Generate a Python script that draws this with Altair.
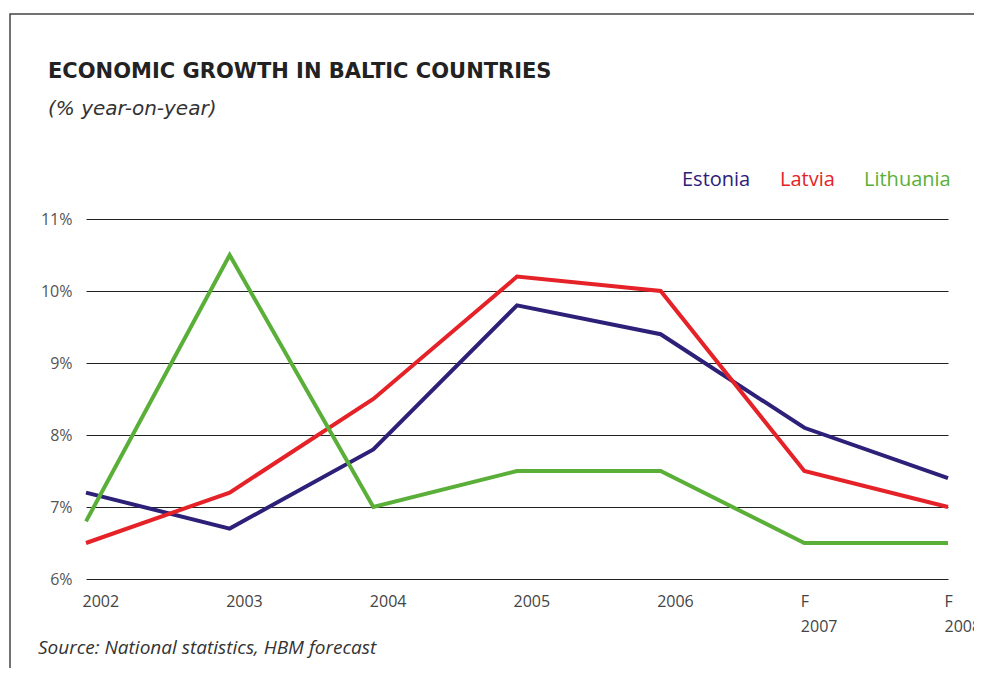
import altair as alt
import pandas as pd

years = [2002, 2003, 2004, 2005, 2006, 2007, 2008]
estonia = [7.2, 6.7, 7.8, 9.8, 9.4, 8.1, 7.4]
latvia = [6.5, 7.2, 8.5, 10.2, 10.0, 7.5, 7.0]
lithuania = [6.8, 10.5, 7.0, 7.5, 7.5, 6.5, 6.5]
countries = ["Estonia", "Latvia", "Lithuania"]
colors = ["#2d2079", "#e52228", "#5aaf38"]
y_ticks = [6, 7, 8, 9, 10, 11]
forecast_years = [2007, 2008]
title_text = "ECONOMIC GROWTH IN BALTIC COUNTRIES"
subtitle_text = "(% year-on-year)"
source_text = "Source: National statistics, HBM forecast"

rows = []
for c, vals in zip(countries, [estonia, latvia, lithuania]):
    for yr, v in zip(years, vals):
        rows.append({"country": c, "year": yr, "growth": v})
df = pd.DataFrame(rows)

W, H = 862, 360
FONT = "Open Sans"
HEAD_FONT = "DejaVu Sans"

color_expr = ""
for c, col in zip(countries[:-1], colors[:-1]):
    color_expr += f"datum.value == '{c}' ? '{col}' : "
color_expr += f"'{colors[-1]}'"

lines = alt.Chart(df).mark_line(strokeWidth=4, strokeJoin="miter").encode(
    x=alt.X("year:Q",
            scale=alt.Scale(domain=[years[0], years[-1]], nice=False, zero=False),
            axis=alt.Axis(values=years, format="d",
                          labelExpr=f"indexof({forecast_years}, datum.value) >= 0 ? ['F', datum.label] : datum.label",
                          grid=False, domain=False, ticks=False,
                          labelAlign="left", labelBaseline="top", labelPadding=14,
                          labelOffset=-4, labelFontSize=16, labelColor="#444",
                          labelFont=FONT, labelLineHeight=25, labelFlush=False,
                          labelOverlap=False, labelBound=False, title=None)),
    y=alt.Y("growth:Q",
            scale=alt.Scale(domain=[y_ticks[0], y_ticks[-1]], nice=False, zero=False),
            axis=alt.Axis(values=y_ticks, format="d", labelExpr="datum.label + '%'",
                          grid=True, gridColor="#222", gridWidth=1.2,
                          domain=False, ticks=False, labelPadding=14,
                          labelFontSize=16, labelColor="#555", labelFont=FONT,
                          title=None)),
    color=alt.Color("country:N",
                    scale=alt.Scale(domain=countries, range=colors),
                    legend=alt.Legend(orient="none", legendX=576, legendY=-49,
                                      direction="horizontal", title=None,
                                      symbolSize=0, symbolStrokeWidth=0, symbolOpacity=0,
                                      labelFontSize=20, labelFont=FONT, labelOffset=0,
                                      columnPadding=9,
                                      labelColor=alt.ExprRef(color_expr))),
)

one = pd.DataFrame({"t": [title_text], "s": [subtitle_text], "src": [source_text]})

frame = alt.Chart(one).mark_rect(fill=None, stroke="#444", strokeWidth=1.5).encode(
    x=alt.value(-76), x2=alt.value(1000), y=alt.value(-205), y2=alt.value(700)
)

title = alt.Chart(one).mark_text(align="left", baseline="alphabetic", font=HEAD_FONT,
                                 fontSize=21, fontWeight="bold", color="#222").encode(
    text="t:N", x=alt.value(-38), y=alt.value(-141)
)
subtitle = alt.Chart(one).mark_text(align="left", baseline="alphabetic", font=HEAD_FONT,
                                    fontSize=20, fontStyle="italic", color="#333").encode(
    text="s:N", x=alt.value(-38), y=alt.value(-104)
)
source = alt.Chart(one).mark_text(align="left", baseline="alphabetic", font=FONT,
                                  fontSize=19, fontStyle="italic", color="#333").encode(
    text="src:N", x=alt.value(-48), y=alt.value(435)
)

chart = alt.layer(frame, lines, title, subtitle, source).properties(
    width=W, height=H,
    autosize=alt.AutoSizeParams(type="none"),
    padding={"left": 78, "top": 211, "right": 26, "bottom": 89},
).configure_view(stroke=None)

chart.save("out.html", embed_options={"renderer": "svg", "actions": False})
